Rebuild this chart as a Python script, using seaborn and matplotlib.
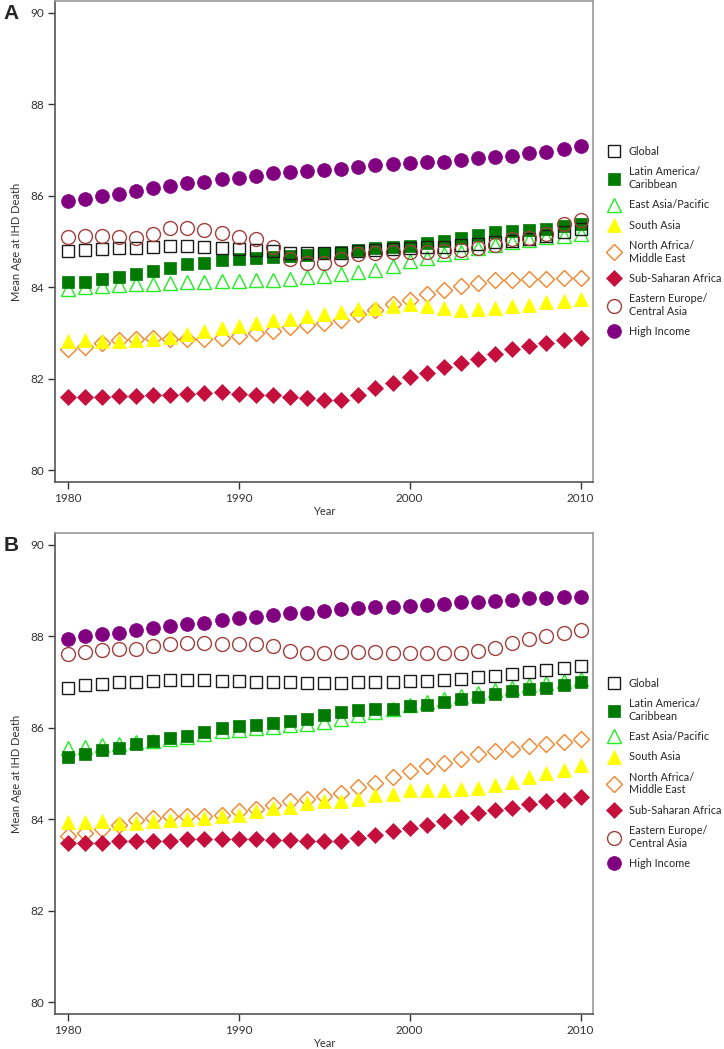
import numpy as np
import pandas as pd
import matplotlib
matplotlib.use("Agg")
import matplotlib.pyplot as plt
import seaborn as sns

# ── Data ──
years = list(range(1980, 2011))

regions = [
    "Global", "Latin America/\nCaribbean", "East Asia/Pacific", "South Asia",
    "North Africa/\nMiddle East", "Sub-Saharan Africa",
    "Eastern Europe/\nCentral Asia", "High Income",
]

# Panel A
global_a = [84.80, 84.82, 84.84, 84.85, 84.86, 84.88, 84.90, 84.90, 84.88, 84.86,
            84.84, 84.82, 84.79, 84.76, 84.74, 84.74, 84.76, 84.79, 84.81, 84.83,
            84.85, 84.87, 84.89, 84.92, 84.95, 84.98, 85.02, 85.06, 85.12, 85.20, 85.27]
latin_a = [84.11, 84.12, 84.17, 84.23, 84.30, 84.36, 84.43, 84.50, 84.54, 84.59,
           84.62, 84.64, 84.66, 84.69, 84.71, 84.74, 84.77, 84.82, 84.86, 84.88,
           84.90, 84.96, 85.02, 85.08, 85.15, 85.20, 85.23, 85.25, 85.28, 85.33, 85.38]
east_asia_a = [83.97, 84.00, 84.02, 84.04, 84.07, 84.08, 84.10, 84.11, 84.12, 84.13,
               84.13, 84.15, 84.16, 84.19, 84.22, 84.25, 84.28, 84.34, 84.38, 84.47,
               84.58, 84.65, 84.72, 84.78, 84.85, 84.92, 84.98, 85.04, 85.09, 85.13, 85.17]
south_asia_a = [82.83, 82.84, 82.83, 82.83, 82.84, 82.87, 82.92, 82.97, 83.05, 83.10,
                83.15, 83.22, 83.28, 83.31, 83.38, 83.42, 83.46, 83.52, 83.55, 83.58,
                83.64, 83.60, 83.55, 83.51, 83.53, 83.55, 83.58, 83.62, 83.67, 83.71, 83.75]
n_africa_a = [82.66, 82.70, 82.77, 82.84, 82.87, 82.89, 82.87, 82.86, 82.86, 82.89,
              82.93, 82.99, 83.05, 83.12, 83.17, 83.22, 83.29, 83.42, 83.51, 83.63,
              83.73, 83.85, 83.93, 84.03, 84.09, 84.15, 84.16, 84.18, 84.18, 84.20, 84.21]
ssa_a = [81.60, 81.61, 81.61, 81.62, 81.62, 81.64, 81.64, 81.67, 81.69, 81.71,
         81.67, 81.65, 81.64, 81.60, 81.58, 81.53, 81.54, 81.64, 81.79, 81.91,
         82.03, 82.13, 82.25, 82.35, 82.44, 82.55, 82.64, 82.71, 82.78, 82.84, 82.90]
e_europe_a = [85.11, 85.12, 85.12, 85.09, 85.07, 85.17, 85.30, 85.30, 85.25, 85.18,
              85.11, 85.05, 84.88, 84.62, 84.52, 84.54, 84.62, 84.72, 84.76, 84.78,
              84.78, 84.77, 84.80, 84.82, 84.86, 84.92, 85.05, 85.08, 85.17, 85.38, 85.48]
high_inc_a = [85.88, 85.93, 86.00, 86.05, 86.10, 86.16, 86.22, 86.27, 86.31, 86.36,
              86.40, 86.44, 86.50, 86.52, 86.54, 86.56, 86.59, 86.64, 86.67, 86.69,
              86.72, 86.73, 86.75, 86.78, 86.82, 86.85, 86.88, 86.93, 86.95, 87.02, 87.10]

# Panel B
global_b = [86.88, 86.93, 86.95, 86.99, 87.01, 87.02, 87.04, 87.04, 87.04, 87.02,
            87.02, 87.01, 87.00, 86.99, 86.98, 86.98, 86.98, 86.99, 86.99, 87.00,
            87.02, 87.02, 87.04, 87.06, 87.10, 87.13, 87.17, 87.22, 87.26, 87.31, 87.35]
latin_b = [85.37, 85.42, 85.51, 85.56, 85.64, 85.71, 85.78, 85.83, 85.91, 85.99,
           86.04, 86.07, 86.11, 86.15, 86.20, 86.27, 86.34, 86.39, 86.40, 86.42,
           86.47, 86.50, 86.56, 86.62, 86.68, 86.73, 86.80, 86.84, 86.88, 86.93, 86.99]
east_asia_b = [85.55, 85.58, 85.62, 85.65, 85.68, 85.72, 85.76, 85.80, 85.86, 85.92,
               85.96, 85.99, 86.02, 86.05, 86.08, 86.13, 86.20, 86.27, 86.35, 86.42,
               86.50, 86.56, 86.63, 86.70, 86.76, 86.82, 86.88, 86.93, 86.98, 87.02, 87.07]
south_asia_b = [83.93, 83.93, 83.96, 83.92, 83.92, 83.96, 83.99, 84.01, 84.03, 84.07,
                84.10, 84.18, 84.25, 84.27, 84.36, 84.39, 84.39, 84.45, 84.52, 84.56,
                84.64, 84.64, 84.64, 84.66, 84.69, 84.74, 84.81, 84.92, 85.00, 85.08, 85.18]
n_africa_b = [83.64, 83.70, 83.79, 83.88, 83.99, 84.03, 84.07, 84.07, 84.08, 84.10,
              84.18, 84.23, 84.30, 84.39, 84.45, 84.50, 84.58, 84.70, 84.80, 84.93,
              85.05, 85.16, 85.24, 85.32, 85.42, 85.49, 85.53, 85.60, 85.64, 85.69, 85.75]
ssa_b = [83.48, 83.48, 83.49, 83.52, 83.52, 83.53, 83.53, 83.56, 83.57, 83.57,
         83.56, 83.56, 83.54, 83.55, 83.52, 83.52, 83.53, 83.59, 83.66, 83.74,
         83.81, 83.88, 83.96, 84.04, 84.14, 84.21, 84.25, 84.34, 84.39, 84.43, 84.49]
e_europe_b = [87.61, 87.66, 87.70, 87.72, 87.73, 87.78, 87.83, 87.85, 87.85, 87.84,
              87.84, 87.83, 87.79, 87.68, 87.63, 87.64, 87.66, 87.66, 87.66, 87.64,
              87.63, 87.63, 87.63, 87.64, 87.68, 87.75, 87.85, 87.94, 88.01, 88.07, 88.13]
high_inc_b = [87.95, 88.01, 88.05, 88.08, 88.13, 88.19, 88.23, 88.26, 88.30, 88.36,
              88.39, 88.43, 88.46, 88.50, 88.52, 88.56, 88.59, 88.62, 88.64, 88.65,
              88.67, 88.68, 88.71, 88.74, 88.76, 88.78, 88.80, 88.83, 88.84, 88.85, 88.87]

# ── Styles ──
colors = ["#1a1a1a", "#007a00", "#22ee22", "#ffff00",
          "#f0852a", "#c50f3c", "#a0403c", "#800080"]
markers = ["s", "s", "^", "^", "D", "D", "o", "o"]
filled = [False, True, False, True, False, True, False, True]
sizes = [9.2, 9.2, 9.6, 9.6, 8.4, 8.4, 10, 10]
draw_order = [2, 1, 0, 6, 4, 3, 5, 7]

sns.set_theme(style="ticks")
plt.rcParams["font.family"] = ["Lato", "DejaVu Sans"]


def draw_panel(ax, series, letter):
    df = pd.DataFrame({"year": np.tile(years, len(regions)),
                       "region": np.repeat(regions, len(years)),
                       "age": np.concatenate(series)})
    for i in draw_order:
        sub = df[df["region"] == regions[i]]
        c = colors[i]
        sns.lineplot(
            data=sub, x="year", y="age", ax=ax, linestyle="none",
            marker=markers[i], markersize=sizes[i],
            markerfacecolor=c if filled[i] else "none",
            markeredgecolor=c, markeredgewidth=1.0 if not filled[i] else 0.5,
            color=c, label=regions[i], legend=False,
        )

    ax.set_xlim(1979.26, 2010.72)
    ax.set_ylim(79.74, 90.26)
    ax.set_xticks([1980, 1990, 2000, 2010])
    ax.set_yticks([80, 82, 84, 86, 88, 90])
    ax.tick_params(direction="out", length=5, width=1, colors="#333333",
                   labelsize=8.5, pad=3)
    for side in ["left", "bottom"]:
        ax.spines[side].set_color("#555555")
    for side in ["top", "right"]:
        ax.spines[side].set_color("#999999")
    for sp in ax.spines.values():
        sp.set_linewidth(1.2)
    ax.set_xlabel("Year", fontsize=8, color="#333333", labelpad=1.5)
    ax.set_ylabel("Mean Age at IHD Death", fontsize=8, color="#333333", labelpad=6)

    # legend in the order of the regions list
    handles, labels = ax.get_legend_handles_labels()
    lookup = dict(zip(labels, handles))
    ax.legend([lookup[r] for r in regions], regions, loc="center left",
              bbox_to_anchor=(1.0, 0.5), frameon=False, fontsize=7.8,
              handlelength=1.2, handletextpad=0.8, labelspacing=0.85,
              borderaxespad=0.9, numpoints=1)

    pos = ax.get_position()
    ax.figure.text(0.005, pos.y1 - 0.012, letter, fontsize=15, fontweight="bold",
                   ha="left", va="center", family="Liberation Sans")


fig = plt.figure(figsize=(7.24, 10.49), dpi=100)
ax_a = fig.add_axes([0.076, 0.5405, 0.743, 0.4585])
ax_b = fig.add_axes([0.076, 0.0334, 0.743, 0.4585])

draw_panel(ax_a, [global_a, latin_a, east_asia_a, south_asia_a,
                  n_africa_a, ssa_a, e_europe_a, high_inc_a], "A")
draw_panel(ax_b, [global_b, latin_b, east_asia_b, south_asia_b,
                  n_africa_b, ssa_b, e_europe_b, high_inc_b], "B")

fig.savefig("out.png", dpi=100)
plt.close(fig)
